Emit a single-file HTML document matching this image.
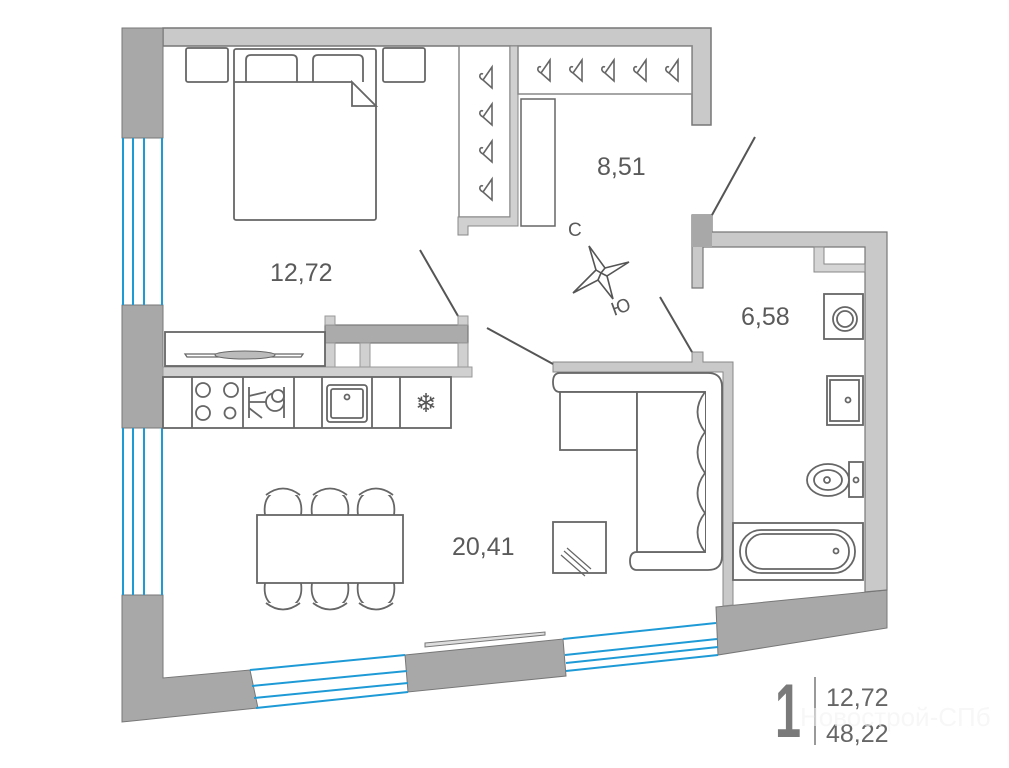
<!DOCTYPE html>
<html><head><meta charset="utf-8"><style>
html,body{margin:0;padding:0;background:#fff;width:1009px;height:768px;overflow:hidden}
svg{display:block}
text{font-family:"Liberation Sans",sans-serif;fill:#5a5a5a}
</style></head><body>
<svg width="1009" height="768" viewBox="0 0 1009 768" xmlns="http://www.w3.org/2000/svg">
<defs>
<g id="hg"><path d="M3,-10 L-6,3 L3,11 Z M-6,3 Q-10,1 -9,-2 Q-8,-4 -6,-3" fill="none" stroke="#666" stroke-width="1.6"/></g>
</defs>
<!-- top wall -->
<path d="M163,28 H711 V125 H692 V46 H163 Z" fill="#c9c9c9" stroke="#777" stroke-width="1.5"/>
<!-- left wall -->
<rect x="122" y="28" width="41" height="110" fill="#a8a8a8" stroke="#777" stroke-width="1"/>
<rect x="122" y="305" width="41" height="123" fill="#a8a8a8" stroke="#777" stroke-width="1"/>
<path d="M122,595 H163 V678 L250,670 L258,708 L122,722 Z" fill="#a8a8a8" stroke="#777" stroke-width="1"/>
<!-- left windows -->
<g stroke="#1e9ad6" stroke-width="2">
<line x1="123" y1="138" x2="123" y2="305"/><line x1="133" y1="138" x2="133" y2="305"/><line x1="144" y1="138" x2="144" y2="305"/><line x1="162" y1="138" x2="162" y2="305"/>
<line x1="123" y1="428" x2="123" y2="595"/><line x1="133" y1="428" x2="133" y2="595"/><line x1="144" y1="428" x2="144" y2="595"/><line x1="162" y1="428" x2="162" y2="595"/>
</g>
<!-- bottom wall -->
<path d="M405,655 L563,639 L566,676 L408,692 Z" fill="#a8a8a8" stroke="#777" stroke-width="1"/>
<path d="M716,607 L887,590 L887,628 L718,655 Z" fill="#a8a8a8" stroke="#777" stroke-width="1"/>
<g stroke="#1e9ad6" stroke-width="2">
<line x1="250" y1="670" x2="405" y2="655"/><line x1="252" y1="686" x2="407" y2="671"/><line x1="254" y1="698" x2="408" y2="683"/><line x1="256" y1="708" x2="408" y2="692"/>
<line x1="563" y1="639" x2="716" y2="623"/><line x1="565" y1="655" x2="717" y2="639"/><line x1="566" y1="663" x2="718" y2="647"/><line x1="566" y1="671" x2="718" y2="655"/>
</g>
<!-- balcony door sill -->
<path d="M425,643 L545,632 L545,635 L425,647 Z" fill="#ddd" stroke="#777" stroke-width="1"/>
<!-- right/bath walls -->
<path d="M692,215 H712 V232 H887 V590 L865,592 V247 H703 V288 H692 Z" fill="#c9c9c9" stroke="#777" stroke-width="1.2"/>
<rect x="692" y="215" width="20" height="32" fill="#a8a8a8"/>
<path d="M553,362 H692 V352 H703 V362 H733 V605 L723,606 V372 H553 Z" fill="#c9c9c9" stroke="#888" stroke-width="1"/>
<path d="M814,247 H824 V264 H865 V272 H814 Z" fill="#d5d5d5" stroke="#888" stroke-width="1"/>
<!-- doors -->
<g stroke="#555" stroke-width="2">
<line x1="420" y1="250" x2="458" y2="316"/><line x1="487" y1="328" x2="553" y2="364"/>
<line x1="660" y1="297" x2="692" y2="352"/><line x1="755" y1="137" x2="712" y2="215"/>
</g>
<!-- wardrobe -->
<rect x="459" y="46" width="51" height="171" fill="#fff" stroke="#888" stroke-width="1.5"/>
<path d="M510,46 H518 V226 H468 V235 H458 V217 H510 Z" fill="#d0d0d0" stroke="#888" stroke-width="1"/>
<rect x="518" y="46" width="174" height="48" fill="#fff" stroke="#888" stroke-width="1.5"/>
<rect x="521" y="99" width="34" height="127" fill="#fff" stroke="#666" stroke-width="1.5"/>
<use href="#hg" x="489" y="77"/><use href="#hg" x="489" y="114"/><use href="#hg" x="489" y="151"/><use href="#hg" x="489" y="189"/>
<use href="#hg" x="547" y="70"/><use href="#hg" x="579" y="70"/><use href="#hg" x="611" y="70"/><use href="#hg" x="643" y="70"/><use href="#hg" x="675" y="70"/>
<!-- bedroom -->
<g fill="#fff" stroke="#666" stroke-width="1.8">
<rect x="186" y="48" width="42" height="34" rx="2"/><rect x="383" y="48" width="42" height="34" rx="2"/>
<rect x="234" y="49" width="142" height="171" rx="2"/>
<path d="M246,82 V60 Q246,55 251,55 H292 Q297,55 297,60 V82"/>
<path d="M313,82 V60 Q313,55 318,55 H358 Q363,55 363,60 V82"/>
<line x1="234" y1="82" x2="352" y2="82"/>
<path d="M352,82 L376,106 H352 Z"/>
</g>
<!-- kitchen partition -->
<rect x="325" y="325" width="143" height="18" fill="#ababab" stroke="#777" stroke-width="1.2"/>
<g fill="#d0d0d0" stroke="#999" stroke-width="1">
<rect x="325" y="316" width="10" height="9"/><rect x="458" y="316" width="10" height="9"/>
<rect x="325" y="343" width="10" height="25"/><rect x="360" y="343" width="10" height="25"/><rect x="458" y="343" width="10" height="25"/>
<path d="M163,367 H472 V377 H163 Z"/>
</g>
<rect x="165" y="332" width="160" height="34" fill="#fff" stroke="#666" stroke-width="1.8"/>
<path d="M185,354 H303 L301,357 H187 Z" fill="none" stroke="#666" stroke-width="1.3"/>
<ellipse cx="245" cy="355" rx="30" ry="4" fill="#bbb" stroke="#666" stroke-width="1"/>
<!-- counter -->
<g fill="#fff" stroke="#666" stroke-width="1.8">
<rect x="163" y="377" width="288" height="51"/>
<line x1="192" y1="377" x2="192" y2="428"/><line x1="243" y1="377" x2="243" y2="428"/><line x1="294" y1="377" x2="294" y2="428"/><line x1="322" y1="377" x2="322" y2="428"/><line x1="372" y1="377" x2="372" y2="428"/><line x1="400" y1="377" x2="400" y2="428"/>
<circle cx="203" cy="390" r="7"/><circle cx="231" cy="390" r="7"/><circle cx="203" cy="413" r="7"/><circle cx="230" cy="413" r="5.5"/>
<rect x="327" y="385" width="40" height="37" rx="3"/><rect x="331" y="389" width="32" height="29" rx="2"/>
<circle cx="347" cy="397" r="2.5"/>
<circle cx="275" cy="402" r="9"/><circle cx="278" cy="396" r="6"/>
<path d="M249,387 V418 M284,387 V418 M249,396 L266,392 M249,402 L266,402 M249,408 L262,418"/>
</g>
<text x="426" y="412" font-size="26" text-anchor="middle" style="fill:#555">❄</text>
<!-- dining -->
<g fill="#fff" stroke="#666" stroke-width="1.8">
<path d="M265,515 Q262,492 283,490 Q304,492 301,515"/><path d="M312,515 Q309,492 330,490 Q351,492 348,515"/><path d="M358,515 Q355,492 376,490 Q397,492 394,515"/>
<path d="M265,583 Q262,606 283,608 Q304,606 301,583"/><path d="M312,583 Q309,606 330,608 Q351,606 348,583"/><path d="M358,583 Q355,606 376,608 Q397,606 394,583"/>
<path d="M266,495 Q283,482 300,495"/><path d="M313,495 Q330,482 347,495"/><path d="M359,495 Q376,482 393,495"/>
<path d="M266,603 Q283,616 300,603"/><path d="M313,603 Q330,616 347,603"/><path d="M359,603 Q376,616 393,603"/>
<rect x="257" y="515" width="146" height="68"/>
</g>
<!-- sofa -->
<g fill="#fff" stroke="#666" stroke-width="1.8">
<path d="M560,373 H708 Q722,373 722,387 V556 Q722,570 708,570 H637 Q630,570 630,561 Q630,552 637,552 H705 V392 H560 Q553,392 553,382 Q553,373 560,373 Z"/>
<rect x="560" y="392" width="77" height="58"/>
<rect x="637" y="392" width="68" height="160"/>
<path d="M705,392 Q690,412 705,432 Q690,452 705,473 Q690,493 705,513 Q690,532 705,552"/>
<rect x="553" y="522" width="53" height="51"/>
<path d="M561,555 L585,576 M564,551 L588,572 M567,548 L591,569" stroke-width="1.2"/>
</g>
<!-- bathroom -->
<g fill="#fff" stroke="#666" stroke-width="1.8">
<rect x="824" y="294" width="39" height="45"/><circle cx="845" cy="319" r="12"/><circle cx="845" cy="319" r="8"/>
<rect x="827" y="376" width="36" height="49"/><rect x="830" y="380" width="29" height="41"/><circle cx="848" cy="400" r="2.5"/>
<rect x="849" y="462" width="14" height="35"/><ellipse cx="828" cy="480" rx="21" ry="16"/><ellipse cx="828" cy="480" rx="14" ry="10"/><circle cx="827" cy="480" r="3"/><circle cx="856" cy="480" r="2.5"/>
<rect x="733" y="523" width="130" height="57"/><rect x="740" y="530" width="115" height="43" rx="21"/><rect x="746" y="534" width="103" height="35" rx="17"/><circle cx="836" cy="551" r="2.5"/>
</g>
<!-- compass -->
<g fill="#fff" stroke="#555" stroke-width="1.6">
<path d="M589,246 L605,268 L629,262 L607,276 L613,299 L598,280 L573,293 L596,270 Z"/>
<path d="M605,268 L601,273 L607,276 M598,280 L601,273 L596,270" fill="none"/>
</g>
<text x="568" y="236" font-size="19">С</text>
<text x="0" y="0" font-size="19" transform="translate(614,316) rotate(-20)">Ю</text>
<!-- labels -->
<text x="597" y="175" font-size="25">8,51</text>
<text x="270" y="281" font-size="25">12,72</text>
<text x="452" y="555" font-size="25">20,41</text>
<text x="741" y="325" font-size="25">6,58</text>
<text x="775" y="737" font-size="76" font-weight="bold" style="fill:#7a7a7a" textLength="26" lengthAdjust="spacingAndGlyphs">1</text>
<line x1="815" y1="677" x2="815" y2="745" stroke="#777" stroke-width="1.5"/>
<text x="826" y="706" font-size="25" style="fill:#666">12,72</text>
<text x="826" y="742" font-size="25" style="fill:#666">48,22</text>
<text x="800" y="726" font-size="26" style="fill:#f2f2f2;opacity:0.6">Новострой-СПб</text>
</svg>
</body></html>
